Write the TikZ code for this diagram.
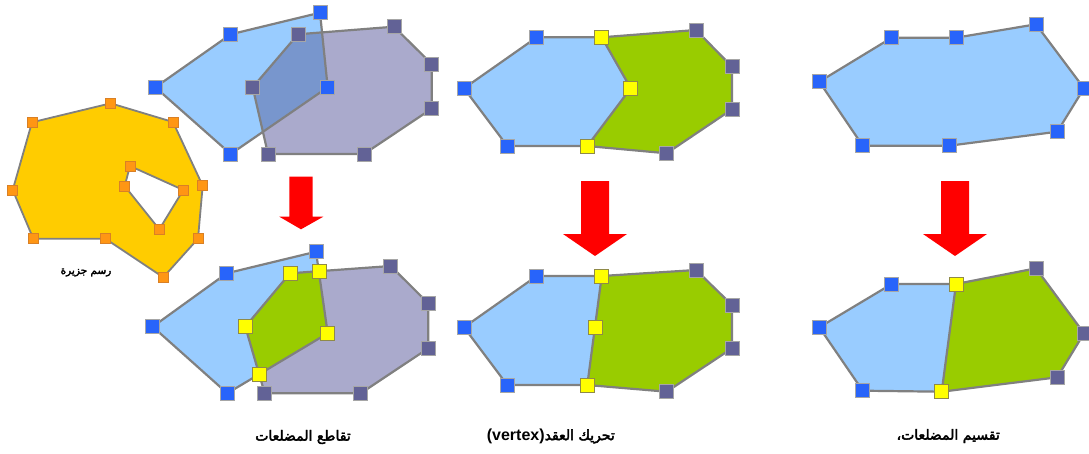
\documentclass[tikz,border=0pt]{standalone}
\usepackage{fontspec}
\setmainfont{Liberation Sans}
\newfontfamily\arabicfont[Script=Arabic, FakeBold=3]{DejaVu Sans}
\TeXXeTstate=1
\usetikzlibrary{calc}
\definecolor{polyblue}{RGB}{153,204,255}
\definecolor{sqblue}{RGB}{40,100,250}
\definecolor{polygray}{RGB}{170,170,204}
\definecolor{sqgray}{RGB}{98,98,150}
\definecolor{overlapc}{RGB}{120,150,205}
\definecolor{polygreen}{RGB}{153,204,0}
\definecolor{sqyellow}{RGB}{255,255,0}
\definecolor{islandfill}{RGB}{255,204,0}
\definecolor{sqorange}{RGB}{255,150,20}
\definecolor{edgegray}{RGB}{128,128,128}
\definecolor{arrowred}{RGB}{255,0,0}
\tikzset{
  edge/.style={draw=edgegray, line width=2.2pt, line join=round},
  vsq/.style={rectangle, minimum size=14pt, inner sep=0pt, draw=edgegray!70, line width=0.5pt},
  bsq/.style={vsq, fill=sqblue},
  gsq/.style={vsq, fill=sqgray},
  ysq/.style={vsq, fill=sqyellow, draw=olive!50!gray},
  osq/.style={vsq, minimum size=10pt, fill=sqorange, draw=orange!70!gray},
  lbl/.style={font=\arabicfont\fontsize{14}{16}\selectfont, inner sep=0pt},
  redarrow/.style={fill=arrowred}
}
\begin{document}
\begin{tikzpicture}[x=1pt, y=-1pt]
\useasboundingbox (0,0) rectangle (1089,453);

% ---------------- island ----------------
\coordinate (io1) at (110.7,103.3);
\coordinate (io2) at (173,122);
\coordinate (io3) at (202.7,185.7);
\coordinate (io4) at (198,238.7);
\coordinate (io5) at (163.3,277.3);
\coordinate (io6) at (105.3,238.7);
\coordinate (io7) at (33.3,238.7);
\coordinate (io8) at (12.7,190);
\coordinate (io9) at (32,122.3);
\coordinate (ih1) at (130,166);
\coordinate (ih2) at (183.3,190);
\coordinate (ih3) at (159.3,229.3);
\coordinate (ih4) at (124.7,186);
\fill[islandfill, even odd rule] (io1)--(io2)--(io3)--(io4)--(io5)--(io6)--(io7)--(io8)--(io9)--cycle
  (ih1)--(ih2)--(ih3)--(ih4)--cycle;
\draw[edge, line width=1.8pt] (io1)--(io2)--(io3)--(io4)--(io5)--(io6)--(io7)--(io8)--(io9)--cycle
  (ih1)--(ih2)--(ih3)--(ih4)--cycle;
\foreach \p in {io1,io2,io3,io4,io5,io6,io7,io8,io9,ih1,ih2,ih3,ih4}
  \node[osq] (sq-\p) at (\p) {};
\node[font=\arabicfont\fontsize{10.5}{12}\selectfont, inner sep=0pt] (islandlbl) at (86,272.5) {\beginR رسم جزيرة\endR};

% ---------------- top left: overlap ----------------
\coordinate (tb1) at (320,12.7);
\coordinate (tb2) at (327.7,87.3);
\coordinate (tb3) at (230.7,154);
\coordinate (tb4) at (155.3,87.3);
\coordinate (tb5) at (230.7,34.3);
\coordinate (tg1) at (298,34.3);
\coordinate (tg2) at (394,26.7);
\coordinate (tg3) at (431.7,64);
\coordinate (tg4) at (431.7,108.7);
\coordinate (tg5) at (364,154);
\coordinate (tg6) at (268,154);
\coordinate (tg7) at (252.7,87.3);
\fill[polyblue] (tb1)--(tb2)--(tb3)--(tb4)--(tb5)--cycle;
\fill[polygray] (tg1)--(tg2)--(tg3)--(tg4)--(tg5)--(tg6)--(tg7)--cycle;
\begin{scope}
  \clip (tb1)--(tb2)--(tb3)--(tb4)--(tb5)--cycle;
  \fill[overlapc] (tg1)--(tg2)--(tg3)--(tg4)--(tg5)--(tg6)--(tg7)--cycle;
\end{scope}
\draw[edge] (tb1)--(tb2)--(tb3)--(tb4)--(tb5)--cycle;
\draw[edge] (tg1)--(tg2)--(tg3)--(tg4)--(tg5)--(tg6)--(tg7)--cycle;
\foreach \p in {tb1,tb2,tb3,tb4,tb5} \node[bsq] (sq-\p) at (\p) {};
\foreach \p in {tg1,tg2,tg3,tg4,tg5,tg6,tg7} \node[gsq] (sq-\p) at (\p) {};

% ---------------- bottom left: intersection ----------------
\coordinate (bb1) at (316,251.7);
\coordinate (bb2) at (327.7,333.3);
\coordinate (bb3) at (227.3,393.3);
\coordinate (bb4) at (152.7,326.7);
\coordinate (bb5) at (226.7,273.3);
\coordinate (bg1) at (290,273.3);
\coordinate (bg2) at (390.7,266);
\coordinate (bg3) at (428.3,303.3);
\coordinate (bg4) at (428.3,348.3);
\coordinate (bg5) at (360.7,393.3);
\coordinate (bg6) at (264.7,393.3);
\coordinate (bg7) at (245.3,326.7);
\coordinate (bx1) at (intersection of bb1--bb2 and bg1--bg2);
\coordinate (bx2) at (intersection of bb2--bb3 and bg6--bg7);
\fill[polyblue] (bb1)--(bb2)--(bb3)--(bb4)--(bb5)--cycle;
\fill[polygray] (bg1)--(bg2)--(bg3)--(bg4)--(bg5)--(bg6)--(bg7)--cycle;
\begin{scope}
  \clip (bb1)--(bb2)--(bb3)--(bb4)--(bb5)--cycle;
  \fill[polygreen] (bg1)--(bg2)--(bg3)--(bg4)--(bg5)--(bg6)--(bg7)--cycle;
\end{scope}
\draw[edge] (bb1)--(bb2)--(bb3)--(bb4)--(bb5)--cycle;
\draw[edge] (bg1)--(bg2)--(bg3)--(bg4)--(bg5)--(bg6)--(bg7)--cycle;
\foreach \p in {bb1,bb3,bb4,bb5} \node[bsq] (sq-\p) at (\p) {};
\foreach \p in {bg2,bg3,bg4,bg5,bg6} \node[gsq] (sq-\p) at (\p) {};
\foreach \p in {bg1,bx1,bb2,bx2,bg7} \node[ysq] (sq-\p) at (\p) {};

% ---------------- middle top ----------------
\coordinate (mb1) at (536.7,37.3);
\coordinate (mb2) at (601.7,37.3);
\coordinate (mb3) at (630.7,88.3);
\coordinate (mb4) at (587.3,146);
\coordinate (mb5) at (507.3,146);
\coordinate (mb6) at (464,88.3);
\coordinate (mg1) at (696,30);
\coordinate (mg2) at (732,66.7);
\coordinate (mg3) at (732,109.3);
\coordinate (mg4) at (666.7,153.3);
\fill[polyblue] (mb1)--(mb2)--(mb3)--(mb4)--(mb5)--(mb6)--cycle;
\fill[polygreen] (mb2)--(mg1)--(mg2)--(mg3)--(mg4)--(mb4)--(mb3)--cycle;
\draw[edge] (mb1)--(mb2)--(mb3)--(mb4)--(mb5)--(mb6)--cycle;
\draw[edge] (mb2)--(mg1)--(mg2)--(mg3)--(mg4)--(mb4);
\foreach \p in {mb1,mb5,mb6} \node[bsq] (sq-\p) at (\p) {};
\foreach \p in {mg1,mg2,mg3,mg4} \node[gsq] (sq-\p) at (\p) {};
\foreach \p in {mb2,mb3,mb4} \node[ysq] (sq-\p) at (\p) {};

% ---------------- middle bottom ----------------
\coordinate (nb1) at (536.7,276);
\coordinate (nb2) at (601.7,276);
\coordinate (nb4) at (587.3,385);
\coordinate (nb3) at ($(nb2)!0.47!(nb4)$);
\coordinate (nb5) at (507.3,385);
\coordinate (nb6) at (464,327.3);
\coordinate (ng1) at (696,270);
\coordinate (ng2) at (732,305);
\coordinate (ng3) at (732,348.3);
\coordinate (ng4) at (666.7,391.7);
\fill[polyblue] (nb1)--(nb2)--(nb4)--(nb5)--(nb6)--cycle;
\fill[polygreen] (nb2)--(ng1)--(ng2)--(ng3)--(ng4)--(nb4)--cycle;
\draw[edge] (nb1)--(nb2)--(nb4)--(nb5)--(nb6)--cycle;
\draw[edge] (nb2)--(ng1)--(ng2)--(ng3)--(ng4)--(nb4);
\foreach \p in {nb1,nb5,nb6} \node[bsq] (sq-\p) at (\p) {};
\foreach \p in {ng1,ng2,ng3,ng4} \node[gsq] (sq-\p) at (\p) {};
\foreach \p in {nb2,nb3,nb4} \node[ysq] (sq-\p) at (\p) {};

% ---------------- right top ----------------
\coordinate (rb1) at (891.7,37.7);
\coordinate (rb2) at (956,37.7);
\coordinate (rb3) at (1036,24.3);
\coordinate (rb4) at (1084,88.3);
\coordinate (rb5) at (1057.3,131.7);
\coordinate (rb6) at (949.3,145.7);
\coordinate (rb7) at (862.7,145.7);
\coordinate (rb8) at (819.3,81.7);
\fill[polyblue] (rb1)--(rb2)--(rb3)--(rb4)--(rb5)--(rb6)--(rb7)--(rb8)--cycle;
\draw[edge] (rb1)--(rb2)--(rb3)--(rb4)--(rb5)--(rb6)--(rb7)--(rb8)--cycle;
\foreach \p in {rb1,rb2,rb3,rb4,rb5,rb6,rb7,rb8} \node[bsq] (sq-\p) at (\p) {};

% ---------------- right bottom ----------------
\coordinate (sb1) at (891.7,284);
\coordinate (sb2) at (956,284);
\coordinate (sb3) at (941.7,391.7);
\coordinate (sb4) at (862.7,390.7);
\coordinate (sb5) at (819.3,327.3);
\coordinate (sg1) at (1036,268.3);
\coordinate (sg2) at (1084,333.3);
\coordinate (sg3) at (1057.3,377.3);
\fill[polyblue] (sb1)--(sb2)--(sb3)--(sb4)--(sb5)--cycle;
\fill[polygreen] (sb2)--(sg1)--(sg2)--(sg3)--(sb3)--cycle;
\draw[edge] (sb1)--(sb2)--(sb3)--(sb4)--(sb5)--cycle;
\draw[edge] (sb2)--(sg1)--(sg2)--(sg3)--(sb3);
\foreach \p in {sb1,sb4,sb5} \node[bsq] (sq-\p) at (\p) {};
\foreach \p in {sg1,sg2,sg3} \node[gsq] (sq-\p) at (\p) {};
\foreach \p in {sb2,sb3} \node[ysq] (sq-\p) at (\p) {};

% ---------------- arrows ----------------
\fill[redarrow] (289.3,176.7)--(312.7,176.7)--(312.7,216.7)--(323.3,216.7)--(301,229.3)--(279.3,216.7)--(289.3,216.7)--cycle;
\fill[redarrow] (581,181)--(609,181)--(609,234)--(627,234)--(595,256)--(563,234)--(581,234)--cycle;
\fill[redarrow] (941,181)--(969,181)--(969,234)--(987,234)--(955,256)--(923,234)--(941,234)--cycle;

% ---------------- labels ----------------
\node[lbl] (lblA) at (303,437) {\beginR تقاطع المضلعات\endR};
\node[lbl, anchor=east] (lblB) at (615,436) {{\fontspec{Liberation Sans}\bfseries\fontsize{16}{18}\selectfont(vertex)}\beginR تحريك العقد\endR};
\node[lbl, anchor=east] (lblC) at (1000,436) {\beginR تقسيم المضلعات،\endR};
\end{tikzpicture}
\end{document}
